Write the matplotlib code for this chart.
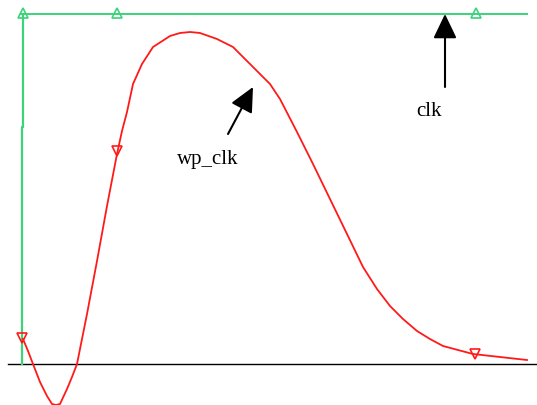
import matplotlib
matplotlib.use("Agg")
import matplotlib.pyplot as plt

# Waveform data (x: time position, y: level above the baseline)
wp_clk_x = [23, 28, 33, 40, 47, 52, 56, 60, 67, 72, 77, 87, 97, 107, 117, 122, 127,
            133, 142, 153, 170, 180, 190, 200, 217, 233, 247, 260, 270, 280, 297,
            313, 330, 347, 363, 377, 390, 403, 417, 430, 443, 458, 473, 500, 527]
wp_clk_y = [25, 13, 0, -18, -32, -40, -41, -40, -25, -13, 0, 50, 103, 158, 210, 233,
            252, 280, 300, 317, 328, 331, 332, 331, 325, 317, 303, 290, 280, 265,
            232, 200, 165, 130, 97, 75, 58, 45, 33, 25, 18, 14, 10, 7, 4]
wp_clk_marker_x = [22, 117, 475]
wp_clk_marker_y = [26, 213, 10]

clk_x = [23, 23, 21.5, 21.5]
clk_y = [350, 237, 237, 0]
clk_top_x = [21, 527]
clk_top_y = [350, 350]
clk_marker_x = [23, 117, 476]
clk_marker_y = [351, 351, 351]

baseline_x = [8, 537]
baseline_y = [0, 0]

labels = ["clk", "wp_clk"]
label_pos = [(429, 253), (208, 205)]
arrow_tips = [(445, 350), (253, 277)]
arrow_tails = [(445, 277), (228, 230)]

fig = plt.figure(figsize=(5.37, 4.06), dpi=100)
ax = fig.add_axes([0, 0, 1, 1])
ax.set_xlim(0, 537)
ax.set_ylim(-41, 365)
ax.axis("off")

green = "#3ed27c"
red = "#ff1a1a"

ax.plot(baseline_x, baseline_y, color="black", lw=1.0)
ax.plot(clk_x, clk_y, color=green, lw=1.6)
ax.plot(clk_top_x, clk_top_y, color=green, lw=1.4)
ax.plot(clk_marker_x, clk_marker_y, ls="none", marker="^", ms=7, mfc="none",
        mec=green, mew=1.2)
ax.plot(wp_clk_x, wp_clk_y, color=red, lw=1.3)
ax.plot(wp_clk_marker_x, wp_clk_marker_y, ls="none", marker="v", ms=7, mfc="none",
        mec=red, mew=1.2)

for lab, pos, tip, tail in zip(labels, label_pos, arrow_tips, arrow_tails):
    ax.annotate("", xy=tip, xytext=tail,
                arrowprops=dict(arrowstyle="-|>,head_length=0.75,head_width=0.36",
                                mutation_scale=20, color="black", lw=1.5,
                                shrinkA=0, shrinkB=0))
    ax.text(pos[0], pos[1], lab, ha="center", va="center", fontsize=15,
            family="Liberation Serif")

fig.savefig("out.png", dpi=100)
